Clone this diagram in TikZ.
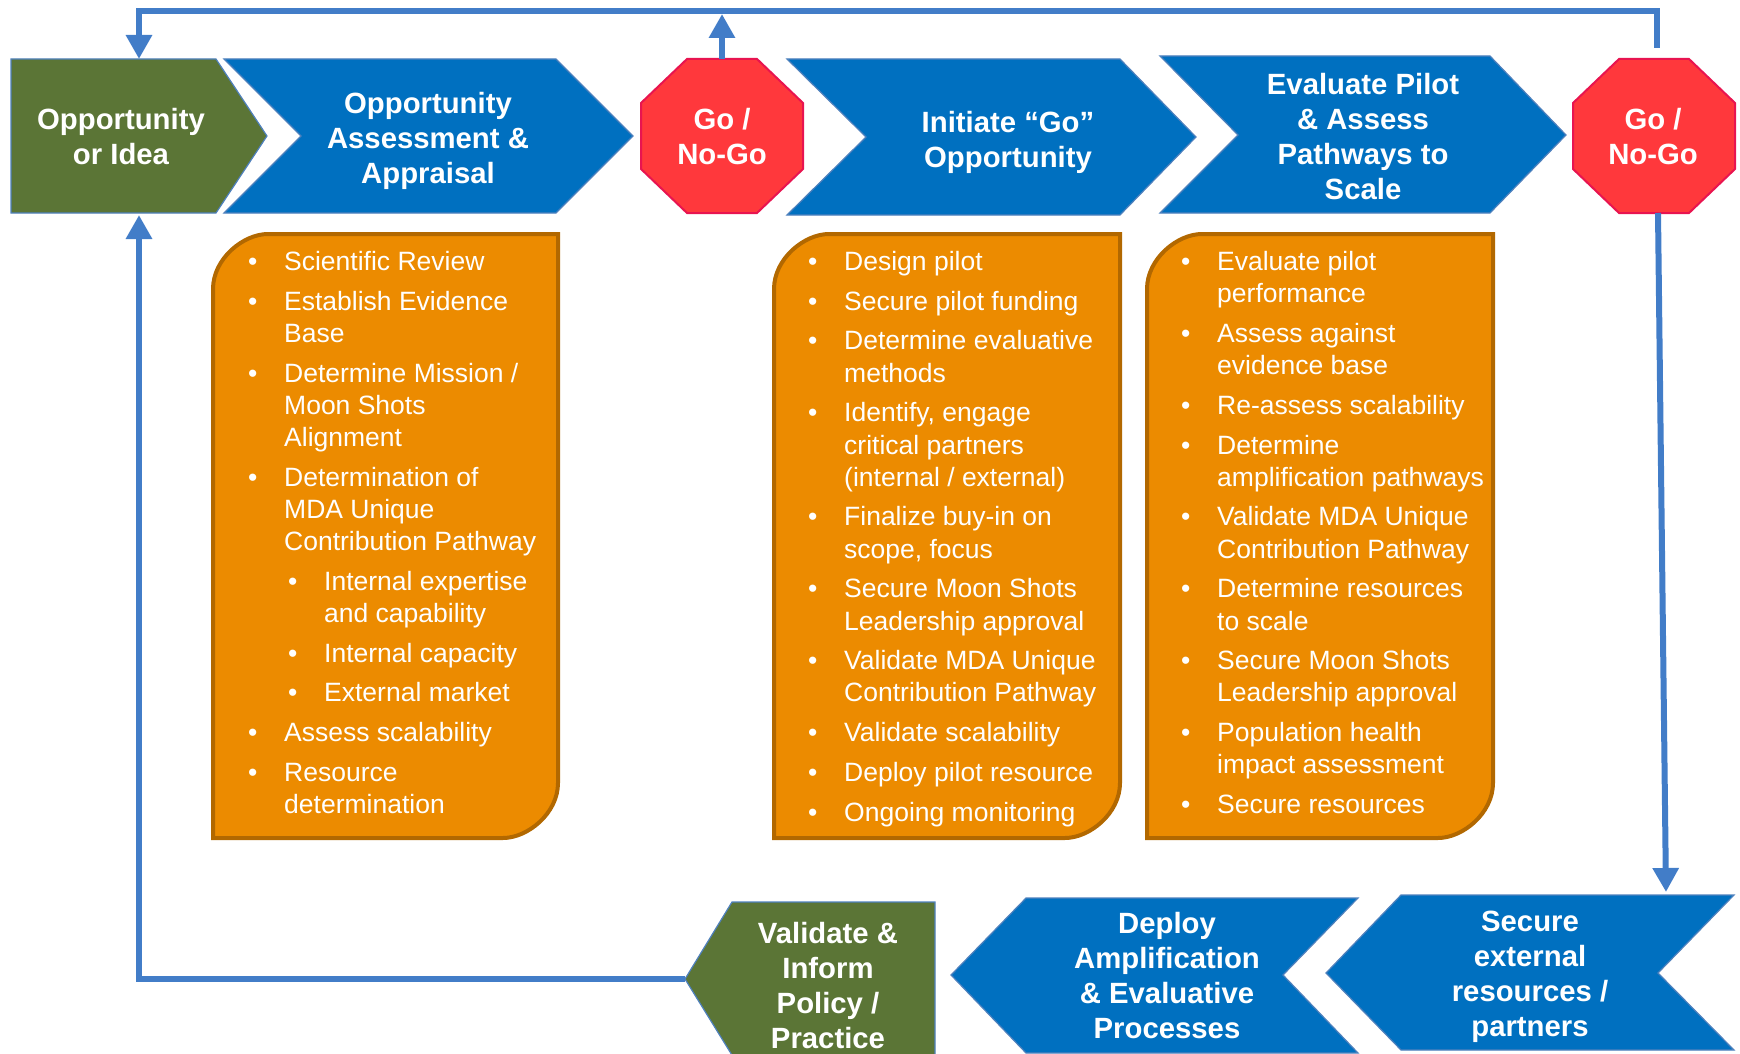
\documentclass[tikz,border=0pt]{standalone}
\usepackage{fontspec}
\setmainfont{Liberation Sans}
\usetikzlibrary{arrows.meta}
\definecolor{cgreen}{RGB}{91,117,54}
\definecolor{cblue}{RGB}{0,112,192}
\definecolor{cblueline}{RGB}{79,129,189}
\definecolor{cred}{RGB}{255,56,60}
\definecolor{credline}{RGB}{232,20,80}
\definecolor{corange}{RGB}{236,139,0}
\definecolor{corangeline}{RGB}{178,104,0}
\definecolor{cconn}{RGB}{66,125,200}
\newcommand{\bitem}[1]{\par\leftskip=36pt\relax\noindent\llap{\makebox[36pt][l]{\textbullet}}#1\par}
\newcommand{\sitem}[1]{\par\leftskip=76pt\relax\noindent\llap{\makebox[36pt][l]{\textbullet}}#1\par}
\newcommand{\blist}[1]{\begin{minipage}[t]{330pt}\fontsize{26.5}{32.2}\selectfont\parskip=7.5pt\relax#1\end{minipage}}
\begin{document}
\begin{tikzpicture}[x=1pt,y=-1pt,
  conn/.style={draw=cconn, line width=6pt},
  tipped/.style={-{Triangle[length=24pt,width=25pt]}},
  gshape/.style={fill=cgreen, draw=cblueline, line width=1.2pt},
  bshape/.style={fill=cblue, draw=cblueline, line width=1.2pt},
  oshape/.style={fill=cred, draw=credline, line width=2pt},
  obox/.style={fill=corange, draw=corangeline, line width=4pt},
  htext/.style={text=white, font=\bfseries\fontsize{29.3}{35}\selectfont, align=center, inner sep=0pt},
  ltext/.style={anchor=base west, inner sep=0pt, text=white}]
\useasboundingbox (0,0) rectangle (1740,1054);
\clip (0,0) rectangle (1740,1054);

% top row shapes
\path[gshape] (11,59) -- (216,59) -- (267,136) -- (216,213) -- (11,213) -- cycle;
\path[bshape] (224,59) -- (556,59) -- (633,136) -- (556,213) -- (224,213) -- (301,136) -- cycle;
\path[oshape] (687,59) -- (757,59) -- (803,103) -- (803,169) -- (757,213) -- (687,213) -- (641,169) -- (641,103) -- cycle;
\path[bshape] (787,59) -- (1120,59) -- (1196,137) -- (1120,215) -- (787,215) -- (866,137) -- cycle;
\path[bshape] (1160,56) -- (1490,56) -- (1566,135) -- (1490,213) -- (1160,213) -- (1238,135) -- cycle;
\path[oshape] (1619,59) -- (1689,59) -- (1735,103) -- (1735,169) -- (1689,213) -- (1619,213) -- (1573,169) -- (1573,103) -- cycle;

% bottom row shapes
\path[gshape] (685,979) -- (732,902) -- (935,902) -- (935,1060) -- (735,1060) -- cycle;
\path[bshape] (951,975) -- (1026,898) -- (1358,898) -- (1283,975) -- (1358,1053) -- (1026,1053) -- cycle;
\path[bshape] (1326,973) -- (1401,895) -- (1734,895) -- (1658,973) -- (1734,1050) -- (1401,1050) -- cycle;

% orange boxes
\path[obox] (213,838) -- (213,289) .. controls (213,258.6) and (243.4,234) .. (268,234) -- (558,234) -- (558,783) .. controls (558,813.4) and (527.6,838) .. (503,838) -- cycle;
\path[obox] (774,838) -- (774,289) .. controls (774,258.6) and (804.4,234) .. (829,234) -- (1120,234) -- (1120,783) .. controls (1120,813.4) and (1089.6,838) .. (1065,838) -- cycle;
\path[obox] (1147,838) -- (1147,289) .. controls (1147,258.6) and (1177.4,234) .. (1202,234) -- (1493,234) -- (1493,783) .. controls (1493,813.4) and (1462.6,838) .. (1438,838) -- cycle;

% heading texts
\node[htext] (idea) at (121,136.5) {Opportunity\\or Idea};
\node[htext] (assess) at (428,140.5) {Opportunity\\Assessment \&\\Appraisal};
\node[htext] (go1) at (722,136.5) {Go /\\No-Go};
\node[htext] (initiate) at (1008,142) {Initiate “Go”\\Opportunity};
\node[htext] (evaluate) at (1363,136.5) {Evaluate Pilot\\\& Assess\\Pathways to\\Scale};
\node[htext] (go2) at (1653,136.5) {Go /\\No-Go};
\node[htext] (validate) at (828,986) {Validate \&\\Inform\\Policy /\\Practice};
\node[htext] (deploy) at (1167,975.5) {Deploy\\Amplification\\\& Evaluative\\Processes};
\node[htext] (secure) at (1530,976.5) {Secure\\external\\resources /\\partners};

% lists
\node[ltext] (list1) at (248,270.5) {\blist{%
\bitem{Scientific Review}
\bitem{Establish Evidence\\Base}
\bitem{Determine Mission /\\Moon Shots\\Alignment}
\bitem{Determination of\\MDA Unique\\Contribution Pathway}
\sitem{Internal expertise\\and capability}
\sitem{Internal capacity}
\sitem{External market}
\bitem{Assess scalability}
\bitem{Resource\\determination}}};
\node[ltext] (list2) at (808,270.5) {\blist{%
\bitem{Design pilot}
\bitem{Secure pilot funding}
\bitem{Determine evaluative\\methods}
\bitem{Identify, engage\\critical partners\\(internal / external)}
\bitem{Finalize buy-in on\\scope, focus}
\bitem{Secure Moon Shots\\Leadership approval}
\bitem{Validate MDA Unique\\Contribution Pathway}
\bitem{Validate scalability}
\bitem{Deploy pilot resource}
\bitem{Ongoing monitoring}}};
\node[ltext] (list3) at (1181,270.5) {\blist{%
\bitem{Evaluate pilot\\performance}
\bitem{Assess against\\evidence base}
\bitem{Re-assess scalability}
\bitem{Determine\\amplification pathways}
\bitem{Validate MDA Unique\\Contribution Pathway}
\bitem{Determine resources\\to scale}
\bitem{Secure Moon Shots\\Leadership approval}
\bitem{Population health\\impact assessment}
\bitem{Secure resources}}};

% connector anchor points
\coordinate (ideaN) at (139,59);
\coordinate (ideaS) at (139,215);
\coordinate (topline) at (139,11);
\coordinate (go1N) at (722,59);
\coordinate (go1up) at (722,14);
\coordinate (go2N) at (1657,59);
\coordinate (go2S) at (1658,213);
\coordinate (secureN) at (1666,892);
\coordinate (validateW) at (685,979);

% connectors
\draw[conn, tipped, shorten <=11pt] (go2N) |- (topline) -- (ideaN);
\draw[conn, tipped] (go1N) -- (go1up);
\draw[conn, tipped] (go2S) -- (secureN);
\draw[conn, tipped] (validateW) -| (ideaS);
\end{tikzpicture}
\end{document}
